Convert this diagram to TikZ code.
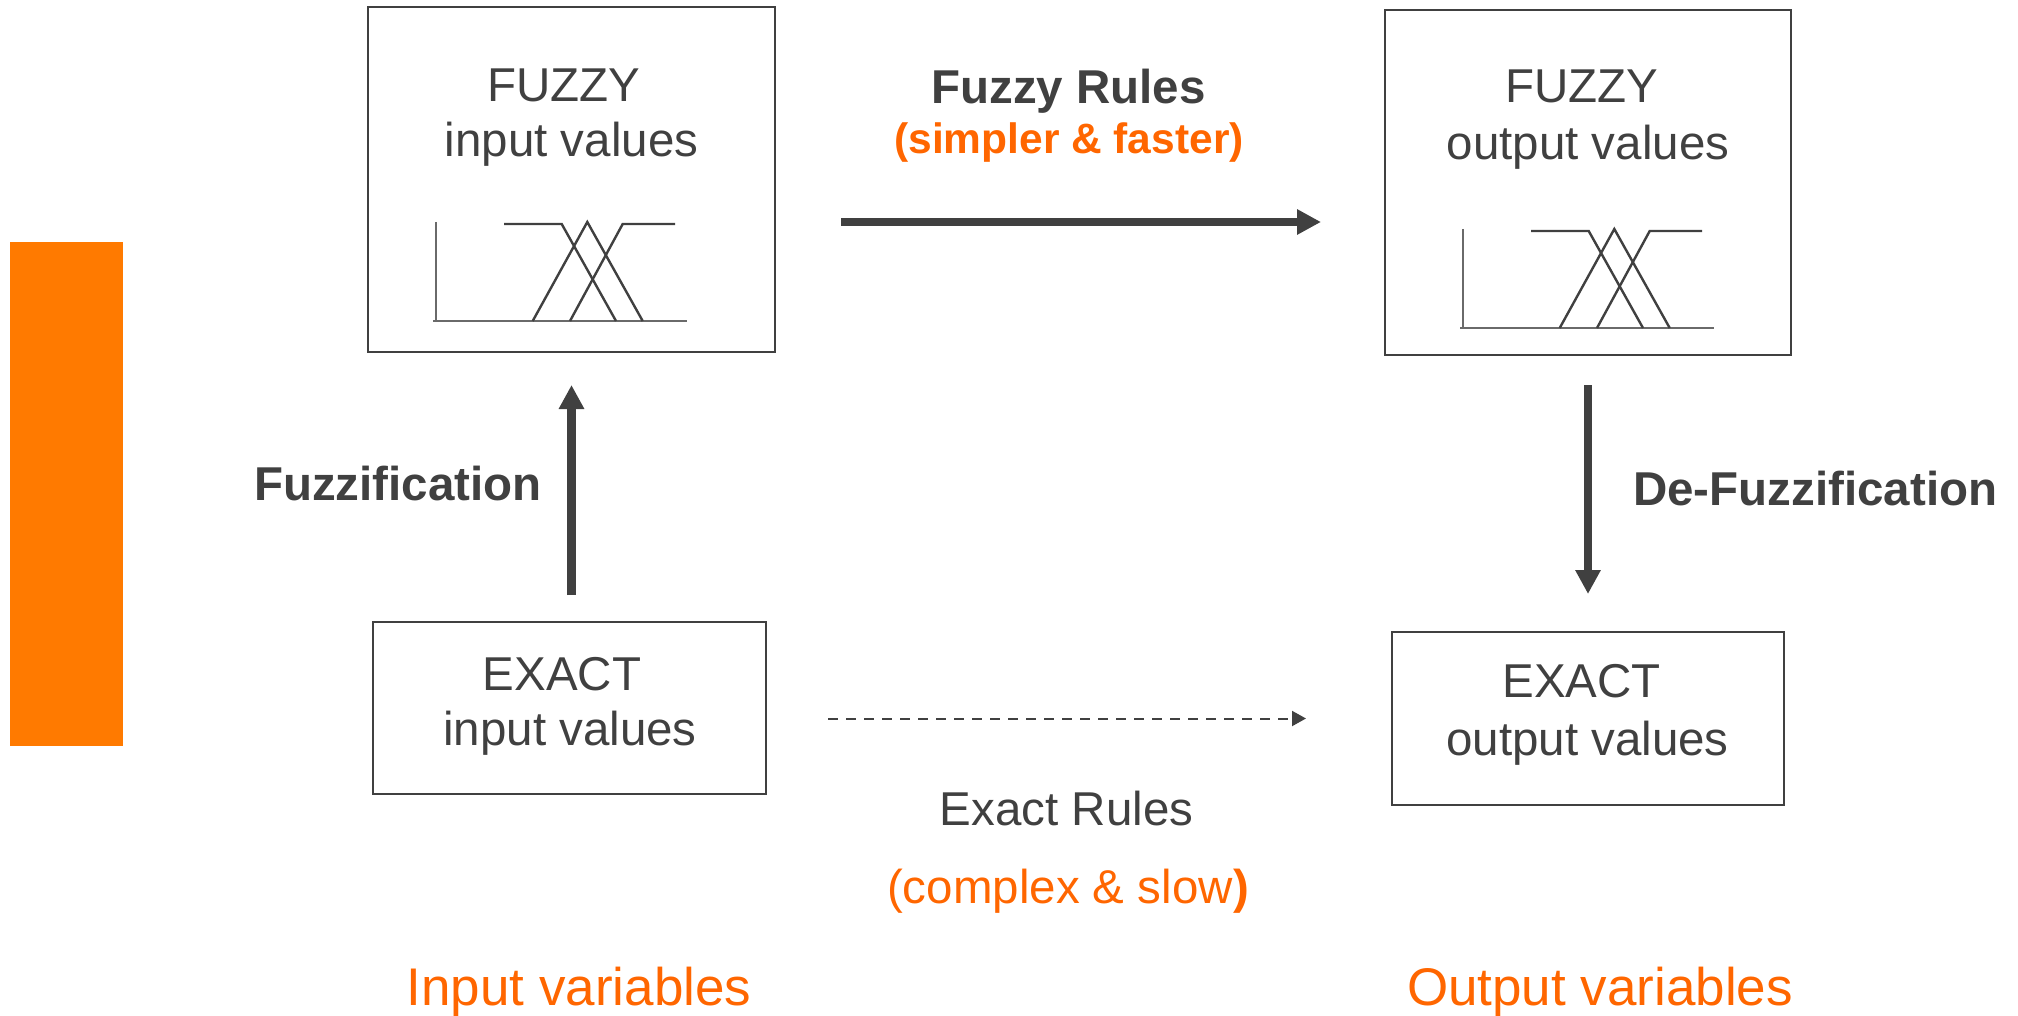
\documentclass[tikz,border=0pt]{standalone}
\usepackage{fontspec}
\setmainfont{Liberation Sans}
\usetikzlibrary{arrows.meta}

\definecolor{ink}{HTML}{404040}
\definecolor{axisgray}{HTML}{6A6A6A}
\definecolor{accent}{HTML}{FF6600}
\definecolor{barorange}{HTML}{FF7A00}

\tikzset{
  valuebox/.style={draw=ink, line width=2pt, rectangle, inner sep=0pt},
  boxtext/.style={text=ink, inner sep=0pt, anchor=base, font=\fontsize{47.5}{55}\selectfont},
  steplabel/.style={text=ink, inner sep=0pt, anchor=base west, font=\fontsize{47.5}{55}\selectfont\bfseries},
  rulehead/.style={inner sep=0pt, anchor=base, font=\fontsize{47.5}{55}\selectfont},
  varlabel/.style={text=accent, inner sep=0pt, anchor=base, font=\fontsize{53}{60}\selectfont},
  bigarrow/.style={draw=ink, line width=8.5pt, -{Triangle[length=24pt,width=24pt]}},
  thinarrow/.style={draw=ink, line width=2pt, dash pattern=on 10pt off 8pt, -{Triangle[length=14pt,width=15pt]}},
  mfplot/.pic={
    % axes
    \draw[axisgray, line width=1.5pt] (0,-99) -- (0,0);
    \draw[axisgray, line width=1.5pt] (-3,0) -- (251,0);
    % membership functions
    \draw[ink, line width=2.4pt, line join=miter] (68,-97) -- (125.7,-97) -- (180,0);
    \draw[ink, line width=2.4pt, line join=miter] (96.7,0) -- (151.3,-99) -- (206.7,0);
    \draw[ink, line width=2.4pt, line join=miter] (134,0) -- (186.7,-97) -- (239,-97);
  }
}

\begin{document}
\begin{tikzpicture}[x=1pt, y=-1pt]
\useasboundingbox (0,0) rectangle (2018,1016);

% side bar
\fill[barorange] (10,242) rectangle (123,746);

% value boxes
\node[valuebox, minimum width=407pt, minimum height=345pt] (fin)  at (571.5,179.5) {};
\node[valuebox, minimum width=406pt, minimum height=345pt] (fout) at (1588,182.5) {};
\node[valuebox, minimum width=393pt, minimum height=172pt] (ein)  at (569.5,708) {};
\node[valuebox, minimum width=392pt, minimum height=173pt] (eout) at (1588,718.5) {};

% box captions
\node[boxtext] (finA)  at (564,102)   {FUZZY};
\node[boxtext] (finB)  at (571.5,157) {input values};
\node[boxtext] (foutA) at (1582,103)  {FUZZY};
\node[boxtext] (foutB) at (1588,160)  {output values};
\node[boxtext] (einA)  at (562,690)   {EXACT};
\node[boxtext] (einB)  at (570,745)   {input values};
\node[boxtext] (eoutA) at (1581.5,697) {EXACT};
\node[boxtext] (eoutB) at (1587.5,755) {output values};

% membership function sketches
\pic at (436,321) {mfplot};
\pic at (1463,328) {mfplot};

% transitions
\draw[bigarrow, shorten <=26pt, shorten >=32pt] (fin.south |- ein.north) -- (fin.south);
\draw[bigarrow, shorten <=29pt, shorten >=37pt] (fout.south) -- (fout.south |- eout.north);
\draw[bigarrow, shorten <=65pt, shorten >=63pt] ([yshift=-42.5pt]fin.east) -- ([yshift=-42.5pt]fin.east -| fout.west);
\draw[thinarrow, shorten <=61pt, shorten >=85pt] (ein.east |- eout.west) -- (eout.west);

% transition labels
\node[steplabel] (fuzz)   at (254,500)  {Fuzzification};
\node[steplabel] (defuzz) at (1633,505) {De-Fuzzification};
\node[rulehead, text=ink] (frA) at (1068.5,104) {\bfseries Fuzzy Rules};
\node[rulehead, text=accent, font=\fontsize{42.5}{48}\selectfont\bfseries] (frB) at (1069,154) {(simpler \& faster)};
\node[rulehead, text=ink] (erA) at (1066.5,825) {Exact Rules};
\node[rulehead, text=accent] (erB) at (1068,903) {(complex \& slow\textbf{)}};

% variable groups
\node[varlabel] (invar)  at (579,1005)  {Input variables};
\node[varlabel] (outvar) at (1600,1005) {Output variables};
\end{tikzpicture}
\end{document}
